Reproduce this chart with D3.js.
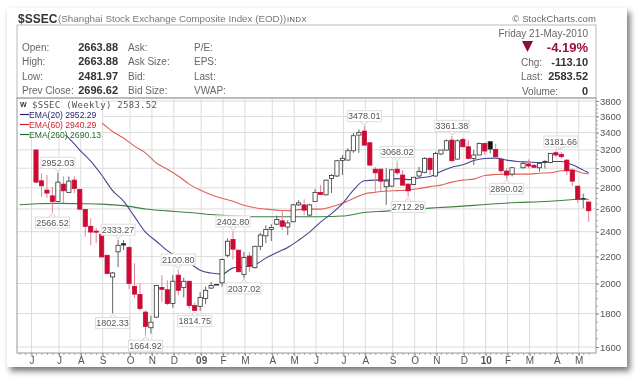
<!DOCTYPE html>
<html>
<head>
<meta charset="utf-8">
<script src="https://cdn.jsdelivr.net/npm/d3@7"></script>
<style>
html, body { margin: 0; padding: 0; background: #fff; }
svg { display: block; filter: blur(0.35px); }
text { font-family: "Liberation Sans", Arial, sans-serif; }
</style>
</head>
<body>
<script>
// weekly candles. index 88 is the missing holiday week
const open = [3198,2870,2778,2722,2668,2837,2754,2877,2785,2595,2446,2405,2379,2209,2047,2236,2301,2270,1979,1925,1809,1712,1777,1973,1957,1865,2060,1972,2016,1851,1846,1898,1968,1990,2005,2209,2335,2249,2065,2203,2115,2280,2365,2419,2464,2493,2440,2485,2637,2637,2544,2668,2754,2732,2894,2919,3082,3087,3190,3371,3419,3281,2990,2990,2811,2817,2990,2929,2837,2834,2919,2957,3106,2919,3154,3198,3312,3098,3320,3235,3106,3143,3274,3293,3205,3098,2970,2938,null,3005,3045,3031,3005,3070,3062,3168,3150,3087,2980,2817,2694,2663.88];
const high = [3209,2945,2929,2811,2952.03,2915,2915,2915,2788,2598,2517,2430,2396,2209,2083,2333.27,2329,2280,2148,2002,1820,1787,1990,2060,2023,2060,2100.80,2040,2020,1871,1940,1979,2011,1995,2184,2343,2402.80,2253,2235,2235,2284,2391,2455,2464,2540,2589,2499,2647,2681,2690,2647,2788,2827,2882,2938,3087,3142,3218,3395,3439,3478.01,3283,3013,2995,3000,2990,3068.02,2980,2844,2909,3013,3118,3120,3177,3198,3320,3361.38,3320,3343,3312,3198,3281,3281,3300,3268,3116,2997,3013,null,3070,3094,3042,3062,3087,3165,3181.66,3177,3094,2997,2817,2744,2663.88];
const low = [2847,2713,2703,2566.52,2665,2654,2751,2748,2598,2360,2288,2305,2194,2067,1802.33,2118,2249,1960,1901,1820,1664.92,1677,1773,1875,1854,1837,1919,1905,1832,1814.75,1817,1860,1964,1988,1979,2192,2176,2078,2037.02,2085,2108,2249,2305,2323,2455,2413,2372,2482,2628,2544,2530,2665,2732,2727,2749,2909,2929,3082,3167,3167,3250,3028,2754,2764,2637,2811,2929,2822,2712.29,2827,2899,2948,2929,2912,3143,3190,3070,3094,3235,3094,3033,3143,3143,3161,3106,2952,2890.02,2915,null,2997,2997,3005,2963,2997,3052,3124,3106,2929,2817,2654,2606,2481.97];
const close = [2857,2820,2749,2668,2857,2771,2867,2795,2598,2446,2397,2396,2196,2072,2076,2288,2290,2000,1927,1832,1720,1746,1986,1960,1864,2016,1953,2016,1851,1820,1905,1953,1986,1993,2176,2321,2257,2085,2192,2125,2280,2372,2419,2436,2505,2446,2475,2637,2656,2589,2637,2754,2735,2877,2924,3080,3106,3190,3363,3403,3254,3033,2952,2867,2868,2983,2952,2827,2771,2906,2967,3106,2987,3161,3198,3304,3080,3304,3235,3106,3143,3274,3187,3209,3124,2973,2929,3005,null,3052,3024,3010,3052,3068,3161,3143,3124,2973,2867,2690,2696.62,2583.52];

// moving averages, sampled every couple of weeks
const ema20Idx = [4,6,8,10,12,14,16,18,20,22,24,26,28,30,32,34,36,38,40,42,44,46,48,50,52,54,56,58,60,62,64,66,68,70,72,74,76,78,80,82,84,86,88,90,92,94,96,98,100,101];
const ema20 = [3455,3336,3198,3076,2929,2773,2672,2530,2396,2321,2245,2190,2151,2096,2075,2067,2113,2121,2136,2187,2231,2271,2329,2396,2482,2557,2648,2778,2870,2877,2877,2892,2882,2899,2914,2965,3011,3036,3082,3104,3109,3087,3072,3066,3060,3072,3072,3036,2980,2952.29];
const ema60Idx = [10,12,14,16,18,20,22,24,26,28,30,32,34,36,38,40,42,44,46,48,50,52,54,56,58,60,62,64,66,68,70,72,74,76,78,80,82,84,86,88,90,92,94,96,98,100,101];
const ema60 = [3592,3517,3413,3336,3242,3167,3055,2990,2919,2837,2778,2732,2700,2671,2633,2611,2598,2589,2584,2594,2598,2598,2620,2653,2696,2741,2757,2769,2773,2778,2793,2812,2827,2857,2877,2887,2924,2934,2938,2938,2938,2948,2952,2973,2980,2948,2940.29];
const ema260Idx = [-3,0,4,8,12,16,20,24,28,32,36,40,44,48,52,56,60,64,68,72,76,80,84,88,92,96,99,101];
const ema260 = [2638,2648,2651,2648,2644,2630,2600,2582,2567,2549,2536,2530,2530,2530,2530,2536,2567,2580,2595,2607,2619,2633,2648,2660,2666,2678,2690,2690.13];

// high / low call-outs
const calloutIdx = [4,3,15,14,20,26,29,36,38,60,66,68,76,86,95];
const calloutVal = [2952.03,2566.52,2333.27,1802.33,1664.92,2100.80,1814.75,2402.80,2037.02,3478.01,3068.02,2712.29,3361.38,2890.02,3181.66];
const calloutSide = [1,-1,1,-1,-1,1,-1,1,-1,1,1,-1,1,-1,1];

const yTicks = [1600,1800,2000,2200,2400,2600,2800,3000,3200,3400,3600,3800];
const monthIdx = [-1,4,8,12,17,21,25,30,34,38,43,47,51,56,60,65,69,73,78,82,86,90,95,99];
const monthText = ["J","J","A","S","O","N","D","09","F","M","A","M","J","J","A","S","O","N","D","10","F","M","A","M"];

const leftNames = ["Open:","High:","Low:","Prev Close:"];
const leftValues = ["2663.88","2663.88","2481.97","2696.62"];
const midNames = ["Ask:","Ask Size:","Bid:","Bid Size:"];
const rightNames = ["P/E:","EPS:","Last:","VWAP:"];

const svg = d3.select("body").append("svg").attr("width", 640).attr("height", 380);

// card with its drop shadow
const defs = svg.append("defs");
defs.append("filter").attr("id", "shadow")
    .attr("x", "-5%").attr("y", "-5%").attr("width", "110%").attr("height", "112%")
    .append("feDropShadow")
    .attr("dx", 3).attr("dy", 4).attr("stdDeviation", 3)
    .attr("flood-color", "#000").attr("flood-opacity", 0.55);
defs.append("clipPath").attr("id", "plot").append("rect")
    .attr("x", 17).attr("y", 98).attr("width", 579).attr("height", 255);

svg.append("rect").attr("x", 7).attr("y", 8).attr("width", 620).attr("height", 359)
    .attr("fill", "#fff").attr("filter", "url(#shadow)");

const x = d3.scaleLinear().domain([0, 101]).range([36, 588.7]);
const y = d3.scaleLog().domain([1600, 3800]).range([347, 101]);

// header
svg.append("text").attr("x", 18).attr("y", 22.5).attr("font-size", 12).attr("font-weight", "bold")
    .attr("fill", "#333").text("$SSEC");
svg.append("text").attr("x", 58).attr("y", 22).attr("font-size", 9.8).attr("fill", "#777")
    .text("(Shanghai Stock Exchange Composite Index (EOD))");
svg.append("text").attr("x", 287).attr("y", 22).attr("font-size", 7.5).attr("letter-spacing", 0.5)
    .attr("fill", "#555").text("INDX");
svg.append("text").attr("x", 596).attr("y", 22).attr("text-anchor", "end").attr("font-size", 9.5)
    .attr("letter-spacing", 0.1).attr("fill", "#666").text("© StockCharts.com");

svg.append("rect").attr("x", 17).attr("y", 25).attr("width", 579).attr("height", 73)
    .attr("fill", "none").attr("stroke", "#bbb");

const rowY = [51, 65, 80, 94];
const info = svg.append("g").attr("font-size", 10).attr("fill", "#666");
info.selectAll(".a").data(leftNames).join("text").attr("x", 22).attr("y", (d, i) => rowY[i]).text(d => d);
info.selectAll(".b").data(leftValues).join("text").attr("x", 118).attr("y", (d, i) => rowY[i])
    .attr("text-anchor", "end").attr("font-weight", "bold").attr("font-size", 11).attr("fill", "#333").text(d => d);
info.selectAll(".c").data(midNames).join("text").attr("x", 128).attr("y", (d, i) => rowY[i]).text(d => d);
info.selectAll(".d").data(rightNames).join("text").attr("x", 194).attr("y", (d, i) => rowY[i]).text(d => d);

svg.append("text").attr("x", 588).attr("y", 37).attr("text-anchor", "end").attr("font-size", 10)
    .attr("fill", "#666").text("Friday  21-May-2010");
svg.append("path").attr("d", "M522,41H533L527.5,52Z").attr("fill", "#8c1030");
svg.append("text").attr("x", 588).attr("y", 52).attr("text-anchor", "end").attr("font-size", 13)
    .attr("font-weight", "bold").attr("fill", "#a01035").text("-4.19%");
svg.append("text").attr("x", 521).attr("y", 66).attr("font-size", 10).attr("fill", "#666").text("Chg:");
svg.append("text").attr("x", 588).attr("y", 66).attr("text-anchor", "end").attr("font-size", 11)
    .attr("font-weight", "bold").attr("fill", "#333").text("-113.10");
svg.append("text").attr("x", 521).attr("y", 80).attr("font-size", 10).attr("fill", "#666").text("Last:");
svg.append("text").attr("x", 588).attr("y", 80).attr("text-anchor", "end").attr("font-size", 11)
    .attr("font-weight", "bold").attr("fill", "#333").text("2583.52");
svg.append("text").attr("x", 522).attr("y", 95).attr("font-size", 10).attr("fill", "#666").text("Volume:");
svg.append("text").attr("x", 588).attr("y", 95).attr("text-anchor", "end").attr("font-size", 11)
    .attr("font-weight", "bold").attr("fill", "#333").text("0");

// grid
svg.append("g").selectAll("line").data(yTicks).join("line")
    .attr("x1", 17).attr("x2", 596).attr("y1", d => y(d)).attr("y2", d => y(d))
    .attr("stroke", "#dcdcdc");
svg.append("g").selectAll("line").data(monthIdx).join("line")
    .attr("x1", d => x(d) + 1).attr("x2", d => x(d) + 1).attr("y1", 98).attr("y2", 353)
    .attr("stroke", "#dcdcdc");

// price axis on the right, small ticks every 50
const minor = d3.range(1600, 3801, 50);
const yMinor = svg.append("g").attr("transform", "translate(596,0)")
    .call(d3.axisRight(y).tickValues(minor).tickSize(2).tickFormat(""));
yMinor.select(".domain").remove();
yMinor.selectAll("line").attr("stroke", "#aaa");
const yAxis = svg.append("g").attr("transform", "translate(596,0)")
    .call(d3.axisRight(y).tickValues(yTicks).tickSize(3).tickPadding(1).tickFormat(d3.format("d")));
yAxis.select(".domain").remove();
yAxis.selectAll("line").attr("stroke", "#888");
yAxis.selectAll("text").attr("font-size", 9.5).attr("font-family", "Liberation Sans").attr("fill", "#555");

// month axis, small ticks for every week
const xWeek = svg.append("g").attr("transform", "translate(0,353)")
    .call(d3.axisBottom(x).tickValues(d3.range(-3, 102)).tickSize(2).tickFormat(""));
xWeek.select(".domain").remove();
xWeek.selectAll("line").attr("stroke", "#aaa");
const xAxis = svg.append("g").attr("transform", "translate(1,353)")
    .call(d3.axisBottom(x).tickValues(monthIdx).tickSize(3).tickPadding(1)
        .tickFormat((d, i) => monthText[i]));
xAxis.select(".domain").remove();
xAxis.selectAll("line").attr("stroke", "#888");
xAxis.selectAll("text").attr("font-size", 10).attr("font-family", "Liberation Sans").attr("fill", "#555")
    .attr("font-weight", (d, i) => monthText[i].length > 1 ? "bold" : "normal");

svg.append("rect").attr("x", 17).attr("y", 98).attr("width", 579).attr("height", 255)
    .attr("fill", "none").attr("stroke", "#999");

// moving averages
const plot = svg.append("g").attr("clip-path", "url(#plot)");
const emaLine = d3.line().x(d => x(d[0])).y(d => y(d[1])).curve(d3.curveMonotoneX);
plot.append("path").datum(d3.zip(ema260Idx, ema260)).attr("d", emaLine)
    .attr("fill", "none").attr("stroke", "#3f7f3f").attr("stroke-width", 1.1);
plot.append("path").datum(d3.zip(ema60Idx, ema60)).attr("d", emaLine)
    .attr("fill", "none").attr("stroke", "#e0605a").attr("stroke-width", 1.1);
plot.append("path").datum(d3.zip(ema20Idx, ema20)).attr("d", emaLine)
    .attr("fill", "none").attr("stroke", "#45458f").attr("stroke-width", 1.1);

// candles: hollow when close is above open, black/red against the previous close
const weeks = d3.range(open.length).filter(i => open[i] !== null);
const isUp = i => i > 0 && close[i] >= close[i - 1 === 88 ? 87 : i - 1];
const candles = plot.selectAll(".candle").data(weeks).join("g").attr("class", "candle");
candles.append("line")
    .attr("x1", i => x(i)).attr("x2", i => x(i))
    .attr("y1", i => y(high[i])).attr("y2", i => y(low[i]))
    .attr("stroke", i => isUp(i) ? "#666" : "#d9869f");
candles.append("rect")
    .attr("x", i => x(i) - 2.1).attr("width", 4.2)
    .attr("y", i => y(Math.max(open[i], close[i])))
    .attr("height", i => Math.max(0.6, Math.abs(y(open[i]) - y(close[i]))))
    .attr("fill", i => close[i] > open[i] ? "#fff" : (isUp(i) ? "#111" : "#cc0a35"))
    .attr("stroke", i => isUp(i) ? "#333" : "#cc0a35")
    .attr("stroke-width", 0.8);

// call-outs above the highs and below the lows
const callouts = plot.selectAll(".callout").data(calloutIdx).join("g").attr("class", "callout");
const tipX = i => x(i);
const boxX = (i, k) => calloutVal[k] === 3181.66 ? x(i) + 5 : x(i);
const tipY = k => y(calloutVal[k]) - calloutSide[k] * 1;
const boxY = k => y(calloutVal[k]) - calloutSide[k] * 10;
callouts.append("path")
    .attr("d", (i, k) => {
        const s = calloutSide[k];
        return `M${boxX(i, k) - 4},${boxY(k) + s * 5}L${tipX(i)},${tipY(k)}L${boxX(i, k) + 4},${boxY(k) + s * 5}`;
    })
    .attr("fill", "#fff").attr("stroke", "#ccc");
callouts.append("rect")
    .attr("x", (i, k) => boxX(i, k) - 17).attr("y", (i, k) => boxY(k) - 5.5)
    .attr("width", 34).attr("height", 11)
    .attr("fill", "#fff").attr("stroke", "#ddd");
callouts.append("text")
    .attr("x", (i, k) => boxX(i, k)).attr("y", (i, k) => boxY(k) + 3.2)
    .attr("text-anchor", "middle").attr("font-size", 9).attr("fill", "#555")
    .text((i, k) => calloutVal[k].toFixed(2));

// legend sits on top of the lines
svg.append("rect").attr("x", 18).attr("y", 99).attr("width", 84).attr("height", 36).attr("fill", "#fff");
svg.append("text").attr("x", 20).attr("y", 107).attr("font-size", 7).attr("font-weight", "bold").attr("fill", "#333").text("W");
svg.append("text").attr("x", 32).attr("y", 107.5).attr("font-size", 9).attr("letter-spacing", 0.27)
    .attr("style", "font-family:'DejaVu Sans Mono'").attr("fill", "#555").text("$SSEC (Weekly) 2583.52");

const legendText = ["EMA(20) 2952.29", "EMA(60) 2940.29", "EMA(260) 2690.13"];
const legendColor = ["#23236f", "#d0202a", "#1f6b2a"];
const legendRow = [114.5, 124.5, 134.5];
svg.append("g").selectAll("line").data(legendText).join("line")
    .attr("x1", 20).attr("x2", 29).attr("y1", (d, i) => legendRow[i]).attr("y2", (d, i) => legendRow[i])
    .attr("stroke", (d, i) => legendColor[i]).attr("stroke-width", 1.2);
svg.append("g").selectAll("text").data(legendText).join("text")
    .attr("x", 29).attr("y", (d, i) => legendRow[i] + 3.2)
    .attr("font-size", 8.6).attr("fill", (d, i) => legendColor[i]).text(d => d);
</script>
</body>
</html>
